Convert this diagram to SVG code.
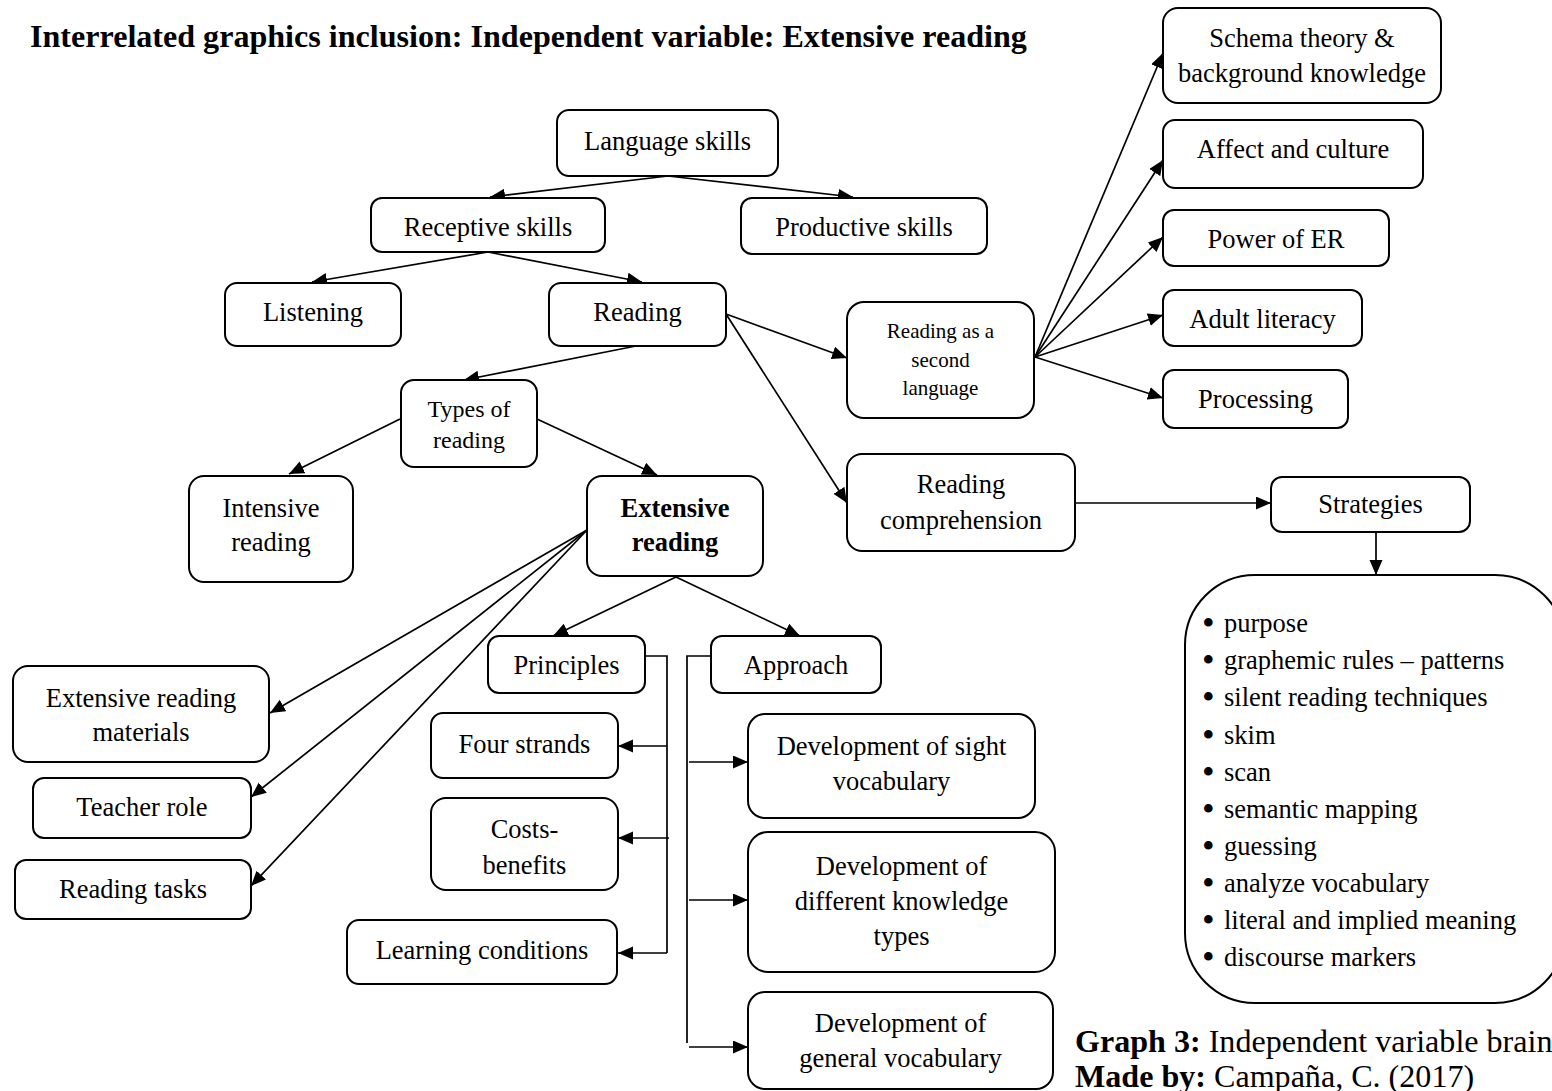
<svg xmlns="http://www.w3.org/2000/svg" width="1552" height="1091" viewBox="0 0 1552 1091">
  <style>
    .box { fill: #ffffff; stroke: #000000; stroke-width: 2; }
    .t { font-family: "Liberation Serif", "Times New Roman", serif; font-size: 26.5px; fill: #000000; text-anchor: middle; }
    .s { font-size: 21px; }
    .m { font-size: 24px; }
    .b { font-weight: bold; }
    .l { text-anchor: start; }
    .big { font-size: 32.1px; }
    .dot { font-size: 36px; }
    .c { fill: none; stroke: #000000; stroke-width: 1.7; }
    .a { marker-end: url(#arrow); }
  </style>
  <defs>
    <marker id="arrow" markerUnits="userSpaceOnUse" markerWidth="16" markerHeight="14" refX="15" refY="6.5" orient="auto">
      <path d="M0,0 L15,6.5 L0,13 z" fill="#000000"/>
    </marker>
  </defs>

  <rect width="1552" height="1091" fill="#ffffff"/>

  <!-- heading -->
  <text class="t l b big" x="30" y="46.5">Interrelated graphics inclusion: Independent variable: Extensive reading</text>

  <!-- connectors -->
  <g id="connectors">
    <path class="c a" d="M668,176 L490,197"/>
    <path class="c a" d="M668,176 L853,197"/>
    <path class="c a" d="M488,252 L312,282"/>
    <path class="c a" d="M488,252 L642,282"/>
    <path class="c a" d="M636,346 L464,380"/>
    <path class="c a" d="M400,419 L289,474"/>
    <path class="c a" d="M537,419 L657,475"/>
    <path class="c a" d="M726,314 L847,358"/>
    <path class="c a" d="M726,314 L847,503"/>
    <path class="c a" d="M1035,357 L1163,53"/>
    <path class="c a" d="M1035,357 L1163,160"/>
    <path class="c a" d="M1035,357 L1163,237"/>
    <path class="c a" d="M1035,357 L1163,315"/>
    <path class="c a" d="M1035,357 L1163,398"/>
    <path class="c a" d="M1075,503 L1271,503"/>
    <path class="c a" d="M1376,532 L1376,575"/>
    <path class="c a" d="M587,530 L270,713"/>
    <path class="c a" d="M587,530 L251,797"/>
    <path class="c a" d="M587,530 L251,886"/>
    <path class="c a" d="M676,577 L553,636"/>
    <path class="c a" d="M676,577 L800,636"/>
    <!-- principles bracket -->
    <path class="c" d="M645,656 H667 V953"/>
    <path class="c a" d="M667,746 H618"/>
    <path class="c a" d="M669,838 H618"/>
    <path class="c a" d="M667,953 H618"/>
    <!-- approach bracket -->
    <path class="c" d="M711,656 H687 V1043"/>
    <path class="c a" d="M689,762 H748"/>
    <path class="c a" d="M689,900 H748"/>
    <path class="c a" d="M689,1047 H748"/>
  </g>

  <g id="language-skills">
    <rect class="box" x="557" y="110" width="221" height="66" rx="12"/>
    <text class="t" x="667.5" y="149.5">Language skills</text>
  </g>
  <g id="receptive-skills">
    <rect class="box" x="371" y="198" width="234" height="54" rx="11"/>
    <text class="t" x="488" y="236">Receptive skills</text>
  </g>
  <g id="productive-skills">
    <rect class="box" x="741" y="198" width="246" height="56" rx="11"/>
    <text class="t" x="864" y="236">Productive skills</text>
  </g>
  <g id="listening">
    <rect class="box" x="225" y="283" width="176" height="63" rx="12"/>
    <text class="t" x="313" y="321">Listening</text>
  </g>
  <g id="reading">
    <rect class="box" x="549" y="283" width="177" height="63" rx="12"/>
    <text class="t" x="637.5" y="321">Reading</text>
  </g>
  <g id="types-of-reading">
    <rect class="box" x="401" y="380" width="136" height="87" rx="13"/>
    <text class="t m" x="469" y="417">Types of</text>
    <text class="t m" x="469" y="448">reading</text>
  </g>
  <g id="intensive-reading">
    <rect class="box" x="189" y="476" width="164" height="106" rx="15"/>
    <text class="t" x="271" y="517">Intensive</text>
    <text class="t" x="271" y="551">reading</text>
  </g>
  <g id="extensive-reading">
    <rect class="box" x="587" y="476" width="176" height="100" rx="15"/>
    <text class="t b" x="675" y="517">Extensive</text>
    <text class="t b" x="675" y="551">reading</text>
  </g>
  <g id="reading-second-language">
    <rect class="box" x="847" y="302" width="187" height="116" rx="17"/>
    <text class="t s" x="940.5" y="338">Reading as a</text>
    <text class="t s" x="940.5" y="366.5">second</text>
    <text class="t s" x="940.5" y="395">language</text>
  </g>
  <g id="reading-comprehension">
    <rect class="box" x="847" y="454" width="228" height="97" rx="15"/>
    <text class="t" x="961" y="493">Reading</text>
    <text class="t" x="961" y="529">comprehension</text>
  </g>
  <g id="strategies">
    <rect class="box" x="1271" y="477" width="199" height="55" rx="11"/>
    <text class="t" x="1370.5" y="513">Strategies</text>
  </g>
  <g id="strategy-list">
    <rect class="box" x="1185" y="575" width="380" height="428" rx="70"/>
    <g class="t l">
      <text class="t l dot" x="1202" y="635">•</text><text class="t l" x="1224" y="632">purpose</text>
      <text class="t l dot" x="1202" y="672">•</text><text class="t l" x="1224" y="669">graphemic rules – patterns</text>
      <text class="t l dot" x="1202" y="709">•</text><text class="t l" x="1224" y="706">silent reading techniques</text>
      <text class="t l dot" x="1202" y="747">•</text><text class="t l" x="1224" y="744">skim</text>
      <text class="t l dot" x="1202" y="784">•</text><text class="t l" x="1224" y="781">scan</text>
      <text class="t l dot" x="1202" y="821">•</text><text class="t l" x="1224" y="818">semantic mapping</text>
      <text class="t l dot" x="1202" y="858">•</text><text class="t l" x="1224" y="855">guessing</text>
      <text class="t l dot" x="1202" y="895">•</text><text class="t l" x="1224" y="892">analyze vocabulary</text>
      <text class="t l dot" x="1202" y="932">•</text><text class="t l" x="1224" y="929">literal and implied meaning</text>
      <text class="t l dot" x="1202" y="969">•</text><text class="t l" x="1224" y="966">discourse markers</text>
    </g>
  </g>
  <g id="schema-theory">
    <rect class="box" x="1163" y="8" width="278" height="95" rx="15"/>
    <text class="t" x="1302" y="47">Schema theory &amp;</text>
    <text class="t" x="1302" y="82">background knowledge</text>
  </g>
  <g id="affect-culture">
    <rect class="box" x="1163" y="120" width="260" height="68" rx="12"/>
    <text class="t" x="1293" y="158">Affect and culture</text>
  </g>
  <g id="power-of-er">
    <rect class="box" x="1163" y="210" width="226" height="56" rx="11"/>
    <text class="t" x="1276" y="247.5">Power of ER</text>
  </g>
  <g id="adult-literacy">
    <rect class="box" x="1163" y="290" width="199" height="56" rx="11"/>
    <text class="t" x="1262.5" y="328">Adult literacy</text>
  </g>
  <g id="processing">
    <rect class="box" x="1163" y="370" width="185" height="58" rx="11"/>
    <text class="t" x="1255.5" y="408">Processing</text>
  </g>
  <g id="principles">
    <rect class="box" x="488" y="636" width="157" height="57" rx="11"/>
    <text class="t" x="566.5" y="674">Principles</text>
  </g>
  <g id="approach">
    <rect class="box" x="711" y="636" width="170" height="57" rx="11"/>
    <text class="t" x="796" y="674">Approach</text>
  </g>
  <g id="four-strands">
    <rect class="box" x="431" y="713" width="187" height="65" rx="12"/>
    <text class="t" x="524.5" y="753">Four strands</text>
  </g>
  <g id="costs-benefits">
    <rect class="box" x="431" y="798" width="187" height="92" rx="15"/>
    <text class="t" x="524.5" y="838">Costs-</text>
    <text class="t" x="524.5" y="873.5">benefits</text>
  </g>
  <g id="learning-conditions">
    <rect class="box" x="347" y="920" width="270" height="64" rx="12"/>
    <text class="t" x="482" y="959">Learning conditions</text>
  </g>
  <g id="sight-vocabulary">
    <rect class="box" x="748" y="714" width="287" height="104" rx="17"/>
    <text class="t" x="891.5" y="755">Development of sight</text>
    <text class="t" x="891.5" y="789.5">vocabulary</text>
  </g>
  <g id="knowledge-types">
    <rect class="box" x="748" y="832" width="307" height="140" rx="20"/>
    <text class="t" x="901.5" y="875">Development of</text>
    <text class="t" x="901.5" y="910">different knowledge</text>
    <text class="t" x="901.5" y="945">types</text>
  </g>
  <g id="general-vocabulary">
    <rect class="box" x="748" y="992" width="305" height="97" rx="17"/>
    <text class="t" x="900.5" y="1032">Development of</text>
    <text class="t" x="900.5" y="1067">general vocabulary</text>
  </g>
  <g id="reading-materials">
    <rect class="box" x="13" y="666" width="256" height="96" rx="15"/>
    <text class="t" x="141" y="707">Extensive reading</text>
    <text class="t" x="141" y="741">materials</text>
  </g>
  <g id="teacher-role">
    <rect class="box" x="33" y="778" width="218" height="60" rx="11"/>
    <text class="t" x="142" y="816">Teacher role</text>
  </g>
  <g id="reading-tasks">
    <rect class="box" x="15" y="860" width="236" height="59" rx="11"/>
    <text class="t" x="133" y="898">Reading tasks</text>
  </g>

  <!-- caption -->
  <text class="t l big" x="1075" y="1051.5"><tspan font-weight="bold">Graph 3:</tspan> Independent variable brain</text>
  <text class="t l big" x="1075" y="1087"><tspan font-weight="bold">Made by:</tspan> Campaña, C. (2017)</text>
</svg>
